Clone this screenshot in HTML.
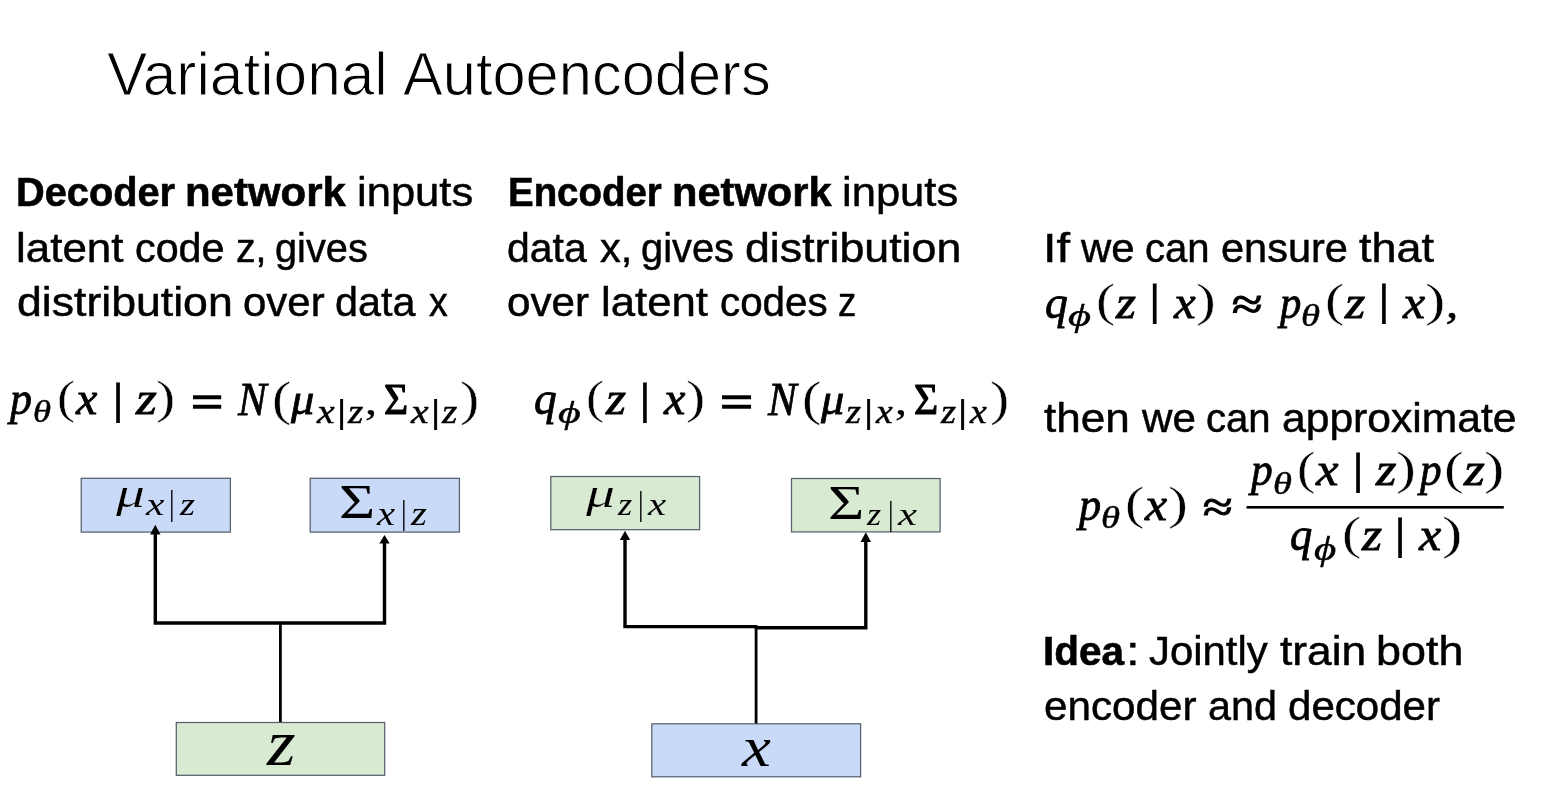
<!DOCTYPE html>
<html lang="en"><head><meta charset="utf-8"><title>Variational Autoencoders</title>
<style>
html,body{margin:0;padding:0;background:#fff;}
#slide{position:relative;width:1542px;height:796px;overflow:hidden;background:#fff;color:#000;}
.t{position:absolute;white-space:pre;line-height:normal;display:block;}
.sa{font-family:"Liberation Sans",sans-serif;}
.sb{font-family:"Liberation Sans",sans-serif;font-weight:700;}
.it{font-family:"Liberation Serif",serif;font-style:italic;}
.up{font-family:"Liberation Serif",serif;}
svg{position:absolute;left:0;top:0;}
#text{position:absolute;left:0;top:0;width:1542px;height:796px;will-change:transform;}

</style></head>
<body>
<div id="slide">
<svg width="1542" height="796" viewBox="0 0 1542 796">
  <g stroke="#56616f" stroke-width="1.25">
    <rect x="81.2" y="478.3" width="149.2" height="53.8" fill="#c9daf8"/>
    <rect x="310.2" y="478.3" width="149.2" height="53.8" fill="#c9daf8"/>
    <rect x="176.3" y="722.5" width="208.4" height="52.8" fill="#d9ead3"/>
    <rect x="550.8" y="476.5" width="148.8" height="53.2" fill="#d9ead3"/>
    <rect x="791.5" y="478.5" width="148.6" height="53.4" fill="#d9ead3"/>
    <rect x="651.8" y="723.8" width="208.8" height="53.0" fill="#c9daf8"/>
  </g>
  <g fill="none" stroke="#000" stroke-width="3.4" stroke-linejoin="miter">
    <polyline points="155.3,533 155.3,623 384.5,623 384.5,542"/>
    <polyline points="625,539 625,626.6 757.5,626.6"/>
    <polyline points="754.7,627.7 865.8,627.7 865.8,541"/>
  </g>
  <g stroke="#000" stroke-width="2.8">
    <line x1="280.4" y1="623" x2="280.4" y2="722"/>
    <line x1="756.1" y1="627" x2="756.1" y2="723.5"/>
  </g>
  <g fill="#000">
    <polygon points="155.3,524.7 160.5,534.4 150.1,534.4"/>
    <polygon points="384.5,535 389.7,543.5 379.3,543.5"/>
    <polygon points="625,530.8 630.2,539.9 619.8,539.9"/>
    <polygon points="865.8,532.2 871,541.9 860.6,541.9"/>
  </g>
  <rect x="1246.5" y="506" width="257.3" height="2.6" fill="#000"/>
</svg>

<div id="text">
<span class="t sa" style="left:107.45px;top:38.73px;font-size:61px;transform-origin:0 56.17px;transform:scale(0.9895,1.0000);-webkit-text-stroke:1.00px #fff;">Variational</span>
<span class="t sa" style="left:402.66px;top:38.73px;font-size:61px;transform-origin:0 56.17px;transform:scale(0.9770,1.0000);-webkit-text-stroke:1.00px #fff;">Autoencoders</span>
<span class="t sb" style="left:16.44px;top:168.09px;font-size:41.5px;transform-origin:0 38.21px;transform:scale(0.9577,1.0000);-webkit-text-stroke:0.60px #000;">Decoder</span>
<span class="t sb" style="left:185.11px;top:168.09px;font-size:41.5px;transform-origin:0 38.21px;transform:scale(1.0107,1.0000);-webkit-text-stroke:0.60px #000;">network</span>
<span class="t sa" style="left:356.56px;top:168.09px;font-size:41.5px;transform-origin:0 38.21px;transform:scale(1.0494,1.0000);-webkit-text-stroke:0.50px #000;">inputs</span>
<span class="t sa" style="left:16.14px;top:224.19px;font-size:41.5px;transform-origin:0 38.21px;transform:scale(1.0588,1.0000);-webkit-text-stroke:0.50px #000;">latent</span>
<span class="t sa" style="left:135.23px;top:224.19px;font-size:41.5px;transform-origin:0 38.21px;transform:scale(0.9947,1.0000);-webkit-text-stroke:0.50px #000;">code</span>
<span class="t sa" style="left:235.90px;top:224.19px;font-size:41.5px;transform-origin:0 38.21px;transform:scale(0.9450,1.0000);-webkit-text-stroke:0.50px #000;">z,</span>
<span class="t sa" style="left:275.18px;top:224.19px;font-size:41.5px;transform-origin:0 38.21px;transform:scale(0.9573,1.0000);-webkit-text-stroke:0.50px #000;">gives</span>
<span class="t sa" style="left:16.61px;top:278.19px;font-size:41.5px;transform-origin:0 38.21px;transform:scale(1.0749,1.0000);-webkit-text-stroke:0.50px #000;">distribution</span>
<span class="t sa" style="left:243.00px;top:278.19px;font-size:41.5px;transform-origin:0 38.21px;transform:scale(1.0110,1.0000);-webkit-text-stroke:0.50px #000;">over</span>
<span class="t sa" style="left:335.33px;top:278.19px;font-size:41.5px;transform-origin:0 38.21px;transform:scale(0.9947,1.0000);-webkit-text-stroke:0.50px #000;">data</span>
<span class="t sa" style="left:429.46px;top:278.19px;font-size:41.5px;transform-origin:0 38.21px;transform:scale(0.9054,1.0000);-webkit-text-stroke:0.50px #000;">x</span>
<span class="t sb" style="left:507.72px;top:168.09px;font-size:41.5px;transform-origin:0 38.21px;transform:scale(0.9258,1.0000);-webkit-text-stroke:0.60px #000;">Encoder</span>
<span class="t sb" style="left:671.53px;top:168.09px;font-size:41.5px;transform-origin:0 38.21px;transform:scale(1.0031,1.0000);-webkit-text-stroke:0.60px #000;">network</span>
<span class="t sa" style="left:842.36px;top:168.09px;font-size:41.5px;transform-origin:0 38.21px;transform:scale(1.0494,1.0000);-webkit-text-stroke:0.50px #000;">inputs</span>
<span class="t sa" style="left:507.44px;top:224.19px;font-size:41.5px;transform-origin:0 38.21px;transform:scale(0.9859,1.0000);-webkit-text-stroke:0.50px #000;">data</span>
<span class="t sa" style="left:600.43px;top:224.19px;font-size:41.5px;transform-origin:0 38.21px;transform:scale(0.9996,1.0000);-webkit-text-stroke:0.50px #000;">x,</span>
<span class="t sa" style="left:640.98px;top:224.19px;font-size:41.5px;transform-origin:0 38.21px;transform:scale(0.9594,1.0000);-webkit-text-stroke:0.50px #000;">gives</span>
<span class="t sa" style="left:745.31px;top:224.19px;font-size:41.5px;transform-origin:0 38.21px;transform:scale(1.0775,1.0000);-webkit-text-stroke:0.50px #000;">distribution</span>
<span class="t sa" style="left:507.40px;top:278.19px;font-size:41.5px;transform-origin:0 38.21px;transform:scale(1.0161,1.0000);-webkit-text-stroke:0.50px #000;">over</span>
<span class="t sa" style="left:601.35px;top:278.19px;font-size:41.5px;transform-origin:0 38.21px;transform:scale(1.0537,1.0000);-webkit-text-stroke:0.50px #000;">latent</span>
<span class="t sa" style="left:719.76px;top:278.19px;font-size:41.5px;transform-origin:0 38.21px;transform:scale(0.9717,1.0000);-webkit-text-stroke:0.50px #000;">codes</span>
<span class="t sa" style="left:838.29px;top:278.19px;font-size:41.5px;transform-origin:0 38.21px;transform:scale(0.8827,1.0000);-webkit-text-stroke:0.50px #000;">z</span>
<span class="t sa" style="left:1042.53px;top:224.19px;font-size:41.5px;transform-origin:0 38.21px;transform:scale(1.1728,1.0000);-webkit-text-stroke:0.50px #000;">If</span>
<span class="t sa" style="left:1081.05px;top:224.19px;font-size:41.5px;transform-origin:0 38.21px;transform:scale(1.0100,1.0000);-webkit-text-stroke:0.50px #000;">we</span>
<span class="t sa" style="left:1145.27px;top:224.19px;font-size:41.5px;transform-origin:0 38.21px;transform:scale(0.9663,1.0000);-webkit-text-stroke:0.50px #000;">can</span>
<span class="t sa" style="left:1221.02px;top:224.19px;font-size:41.5px;transform-origin:0 38.21px;transform:scale(1.0001,1.0000);-webkit-text-stroke:0.50px #000;">ensure</span>
<span class="t sa" style="left:1358.72px;top:224.19px;font-size:41.5px;transform-origin:0 38.21px;transform:scale(1.0828,1.0000);-webkit-text-stroke:0.50px #000;">that</span>
<span class="t sa" style="left:1044.23px;top:394.09px;font-size:41.5px;transform-origin:0 38.21px;transform:scale(1.0620,1.0000);-webkit-text-stroke:0.50px #000;">then</span>
<span class="t sa" style="left:1141.95px;top:394.09px;font-size:41.5px;transform-origin:0 38.21px;transform:scale(1.0158,1.0000);-webkit-text-stroke:0.50px #000;">we</span>
<span class="t sa" style="left:1206.07px;top:394.09px;font-size:41.5px;transform-origin:0 38.21px;transform:scale(0.9663,1.0000);-webkit-text-stroke:0.50px #000;">can</span>
<span class="t sa" style="left:1281.78px;top:394.09px;font-size:41.5px;transform-origin:0 38.21px;transform:scale(1.0271,1.0000);-webkit-text-stroke:0.50px #000;">approximate</span>
<span class="t sb" style="left:1043.39px;top:627.09px;font-size:41.5px;transform-origin:0 38.21px;transform:scale(0.9756,1.0000);-webkit-text-stroke:0.60px #000;">Idea</span>
<span class="t sa" style="left:1126.29px;top:627.09px;font-size:41.5px;transform-origin:0 38.21px;transform:scale(1.1838,1.0000);-webkit-text-stroke:0.50px #000;">:</span>
<span class="t sa" style="left:1148.75px;top:627.09px;font-size:41.5px;transform-origin:0 38.21px;transform:scale(1.0092,1.0000);-webkit-text-stroke:0.50px #000;">Jointly</span>
<span class="t sa" style="left:1279.53px;top:627.09px;font-size:41.5px;transform-origin:0 38.21px;transform:scale(1.0669,1.0000);-webkit-text-stroke:0.50px #000;">train</span>
<span class="t sa" style="left:1376.48px;top:627.09px;font-size:41.5px;transform-origin:0 38.21px;transform:scale(1.0818,1.0000);-webkit-text-stroke:0.50px #000;">both</span>
<span class="t sa" style="left:1043.80px;top:682.09px;font-size:41.5px;transform-origin:0 38.21px;transform:scale(1.0169,1.0000);-webkit-text-stroke:0.50px #000;">encoder</span>
<span class="t sa" style="left:1207.73px;top:682.09px;font-size:41.5px;transform-origin:0 38.21px;transform:scale(0.9947,1.0000);-webkit-text-stroke:0.50px #000;">and</span>
<span class="t sa" style="left:1288.20px;top:682.09px;font-size:41.5px;transform-origin:0 38.21px;transform:scale(1.0135,1.0000);-webkit-text-stroke:0.50px #000;">decoder</span>
<span class="t it" style="left:10.44px;top:371.41px;font-size:47px;transform-origin:0 42.89px;transform:scale(0.9349,1.0000);-webkit-text-stroke:0.80px #000;">p</span>
<span class="t it" style="left:32.63px;top:391.33px;font-size:34.5px;transform-origin:0 31.48px;transform:scale(1.0622,0.9023);-webkit-text-stroke:0.50px #000;">θ</span>
<span class="t up" style="left:57.29px;top:370.30px;font-size:47px;transform-origin:0 42.89px;transform:scale(1.1519,1.0025);-webkit-text-stroke:0.40px #fff;">(</span>
<span class="t it" style="left:76.01px;top:371.41px;font-size:47px;transform-origin:0 42.89px;transform:scale(1.0251,1.0000);-webkit-text-stroke:0.80px #000;">x</span>
<span class="t up" style="left:110.70px;top:371.42px;font-size:47px;transform-origin:0 42.89px;transform:scale(1.5000,0.9594);-webkit-text-stroke:0.25px #000;">|</span>
<span class="t it" style="left:136.13px;top:371.41px;font-size:47px;transform-origin:0 42.89px;transform:scale(1.1414,1.0000);-webkit-text-stroke:0.80px #000;">z</span>
<span class="t up" style="left:156.13px;top:370.30px;font-size:47px;transform-origin:0 42.89px;transform:scale(1.2299,1.0025);-webkit-text-stroke:0.40px #fff;">)</span>
<span class="t up" style="left:190.50px;top:375.28px;font-size:47px;transform-origin:0 42.89px;transform:scale(1.2129,1.0418);-webkit-text-stroke:1.40px #000;">=</span>
<span class="t it" style="left:238.22px;top:372.11px;font-size:47px;transform-origin:0 42.89px;transform:scale(0.9141,0.9889);-webkit-text-stroke:0.80px #000;">N</span>
<span class="t up" style="left:272.10px;top:371.88px;font-size:47px;transform-origin:0 42.89px;transform:scale(1.2299,1.0144);-webkit-text-stroke:0.40px #fff;">(</span>
<span class="t it" style="left:291.20px;top:370.79px;font-size:47px;transform-origin:0 42.89px;transform:scale(0.9897,0.9651);-webkit-text-stroke:0.80px #000;">μ</span>
<span class="t it" style="left:316.58px;top:392.42px;font-size:34.5px;transform-origin:0 31.48px;transform:scale(1.1482,1.0000);-webkit-text-stroke:0.50px #000;">x</span>
<span class="t up" style="left:335.99px;top:391.94px;font-size:34.5px;transform-origin:0 31.48px;transform:scale(1.6104,0.9481);-webkit-text-stroke:0.20px #000;">|</span>
<span class="t it" style="left:348.28px;top:392.42px;font-size:34.5px;transform-origin:0 31.48px;transform:scale(1.1393,1.0000);-webkit-text-stroke:0.50px #000;">z</span>
<span class="t up" style="left:365.02px;top:371.44px;font-size:47px;transform-origin:0 42.89px;transform:scale(1.0274,0.8609);-webkit-text-stroke:0.25px #000;">,</span>
<span class="t up" style="left:384.02px;top:371.49px;font-size:47px;transform-origin:0 42.89px;transform:scale(0.8820,0.9611);-webkit-text-stroke:1.30px #000;">Σ</span>
<span class="t it" style="left:410.78px;top:392.42px;font-size:34.5px;transform-origin:0 31.48px;transform:scale(1.1482,1.0000);-webkit-text-stroke:0.50px #000;">x</span>
<span class="t up" style="left:430.19px;top:391.94px;font-size:34.5px;transform-origin:0 31.48px;transform:scale(1.6104,0.9481);-webkit-text-stroke:0.20px #000;">|</span>
<span class="t it" style="left:442.48px;top:392.42px;font-size:34.5px;transform-origin:0 31.48px;transform:scale(1.1393,1.0000);-webkit-text-stroke:0.50px #000;">z</span>
<span class="t up" style="left:460.33px;top:371.88px;font-size:47px;transform-origin:0 42.89px;transform:scale(1.2299,1.0144);-webkit-text-stroke:0.40px #fff;">)</span>
<span class="t it" style="left:533.87px;top:371.41px;font-size:47px;transform-origin:0 42.89px;transform:scale(0.9648,1.0000);-webkit-text-stroke:0.80px #000;">q</span>
<span class="t it" style="left:557.92px;top:391.76px;font-size:34.5px;transform-origin:0 31.48px;transform:scale(1.2721,0.9308);-webkit-text-stroke:0.50px #000;">ϕ</span>
<span class="t up" style="left:586.49px;top:370.30px;font-size:47px;transform-origin:0 42.89px;transform:scale(1.1519,1.0025);-webkit-text-stroke:0.40px #fff;">(</span>
<span class="t it" style="left:606.08px;top:371.41px;font-size:47px;transform-origin:0 42.89px;transform:scale(1.0940,1.0000);-webkit-text-stroke:0.80px #000;">z</span>
<span class="t up" style="left:637.53px;top:371.42px;font-size:47px;transform-origin:0 42.89px;transform:scale(1.4615,0.9594);-webkit-text-stroke:0.25px #000;">|</span>
<span class="t it" style="left:663.51px;top:371.41px;font-size:47px;transform-origin:0 42.89px;transform:scale(1.0251,1.0000);-webkit-text-stroke:0.80px #000;">x</span>
<span class="t up" style="left:686.13px;top:370.30px;font-size:47px;transform-origin:0 42.89px;transform:scale(1.2299,1.0025);-webkit-text-stroke:0.40px #fff;">)</span>
<span class="t up" style="left:719.64px;top:375.28px;font-size:47px;transform-origin:0 42.89px;transform:scale(1.2471,1.0418);-webkit-text-stroke:1.40px #000;">=</span>
<span class="t it" style="left:768.22px;top:372.11px;font-size:47px;transform-origin:0 42.89px;transform:scale(0.9141,0.9889);-webkit-text-stroke:0.80px #000;">N</span>
<span class="t up" style="left:802.10px;top:371.88px;font-size:47px;transform-origin:0 42.89px;transform:scale(1.2299,1.0144);-webkit-text-stroke:0.40px #fff;">(</span>
<span class="t it" style="left:821.20px;top:370.79px;font-size:47px;transform-origin:0 42.89px;transform:scale(0.9897,0.9651);-webkit-text-stroke:0.80px #000;">μ</span>
<span class="t it" style="left:845.76px;top:392.42px;font-size:34.5px;transform-origin:0 31.48px;transform:scale(1.1176,1.0000);-webkit-text-stroke:0.50px #000;">z</span>
<span class="t up" style="left:863.49px;top:391.94px;font-size:34.5px;transform-origin:0 31.48px;transform:scale(1.6104,0.9481);-webkit-text-stroke:0.20px #000;">|</span>
<span class="t it" style="left:875.74px;top:392.42px;font-size:34.5px;transform-origin:0 31.48px;transform:scale(1.0920,1.0000);-webkit-text-stroke:0.50px #000;">x</span>
<span class="t up" style="left:895.02px;top:371.44px;font-size:47px;transform-origin:0 42.89px;transform:scale(1.0274,0.8609);-webkit-text-stroke:0.25px #000;">,</span>
<span class="t up" style="left:914.02px;top:371.49px;font-size:47px;transform-origin:0 42.89px;transform:scale(0.8820,0.9611);-webkit-text-stroke:1.30px #000;">Σ</span>
<span class="t it" style="left:940.76px;top:392.42px;font-size:34.5px;transform-origin:0 31.48px;transform:scale(1.1176,1.0000);-webkit-text-stroke:0.50px #000;">z</span>
<span class="t up" style="left:957.39px;top:391.94px;font-size:34.5px;transform-origin:0 31.48px;transform:scale(1.6104,0.9481);-webkit-text-stroke:0.20px #000;">|</span>
<span class="t it" style="left:969.94px;top:392.42px;font-size:34.5px;transform-origin:0 31.48px;transform:scale(1.0920,1.0000);-webkit-text-stroke:0.50px #000;">x</span>
<span class="t up" style="left:990.33px;top:371.88px;font-size:47px;transform-origin:0 42.89px;transform:scale(1.2299,1.0144);-webkit-text-stroke:0.40px #fff;">)</span>
<span class="t it" style="left:1044.67px;top:274.61px;font-size:47px;transform-origin:0 42.89px;transform:scale(0.9695,1.0000);-webkit-text-stroke:0.80px #000;">q</span>
<span class="t it" style="left:1068.41px;top:294.74px;font-size:34.5px;transform-origin:0 31.48px;transform:scale(1.2900,0.9339);-webkit-text-stroke:0.50px #000;">ϕ</span>
<span class="t up" style="left:1096.33px;top:272.65px;font-size:47px;transform-origin:0 42.89px;transform:scale(1.2212,0.9977);-webkit-text-stroke:0.40px #fff;">(</span>
<span class="t it" style="left:1116.08px;top:274.61px;font-size:47px;transform-origin:0 42.89px;transform:scale(1.0940,1.0000);-webkit-text-stroke:0.80px #000;">z</span>
<span class="t up" style="left:1148.16px;top:272.09px;font-size:47px;transform-origin:0 42.89px;transform:scale(1.4231,0.9431);-webkit-text-stroke:0.25px #000;">|</span>
<span class="t it" style="left:1174.03px;top:274.61px;font-size:47px;transform-origin:0 42.89px;transform:scale(1.0387,1.0000);-webkit-text-stroke:0.80px #000;">x</span>
<span class="t up" style="left:1196.47px;top:272.65px;font-size:47px;transform-origin:0 42.89px;transform:scale(1.2645,0.9977);-webkit-text-stroke:0.40px #fff;">)</span>
<span class="t up" style="left:1231.65px;top:276.21px;font-size:47px;transform-origin:0 42.89px;transform:scale(1.1783,0.9344);-webkit-text-stroke:1.30px #000;">≈</span>
<span class="t it" style="left:1279.55px;top:274.61px;font-size:47px;transform-origin:0 42.89px;transform:scale(0.9076,1.0000);-webkit-text-stroke:0.80px #000;">p</span>
<span class="t it" style="left:1300.84px;top:294.72px;font-size:34.5px;transform-origin:0 31.48px;transform:scale(1.1227,0.9223);-webkit-text-stroke:0.50px #000;">θ</span>
<span class="t up" style="left:1325.40px;top:272.65px;font-size:47px;transform-origin:0 42.89px;transform:scale(1.2299,0.9977);-webkit-text-stroke:0.40px #fff;">(</span>
<span class="t it" style="left:1345.30px;top:274.61px;font-size:47px;transform-origin:0 42.89px;transform:scale(1.1098,1.0000);-webkit-text-stroke:0.80px #000;">z</span>
<span class="t up" style="left:1377.03px;top:272.09px;font-size:47px;transform-origin:0 42.89px;transform:scale(1.4615,0.9431);-webkit-text-stroke:0.25px #000;">|</span>
<span class="t it" style="left:1402.75px;top:274.61px;font-size:47px;transform-origin:0 42.89px;transform:scale(1.0615,1.0000);-webkit-text-stroke:0.80px #000;">x</span>
<span class="t up" style="left:1425.20px;top:272.65px;font-size:47px;transform-origin:0 42.89px;transform:scale(1.2992,0.9977);-webkit-text-stroke:0.40px #fff;">)</span>
<span class="t it" style="left:1445.50px;top:274.27px;font-size:47px;transform-origin:0 42.89px;transform:scale(1.0316,0.8787);-webkit-text-stroke:0.80px #000;">,</span>
<span class="t it" style="left:1078.76px;top:476.61px;font-size:47px;transform-origin:0 42.89px;transform:scale(0.9427,1.0000);-webkit-text-stroke:0.80px #000;">p</span>
<span class="t it" style="left:1100.84px;top:497.21px;font-size:34.5px;transform-origin:0 31.48px;transform:scale(1.1227,0.9383);-webkit-text-stroke:0.50px #000;">θ</span>
<span class="t up" style="left:1125.40px;top:475.65px;font-size:47px;transform-origin:0 42.89px;transform:scale(1.2299,0.9977);-webkit-text-stroke:0.40px #fff;">(</span>
<span class="t it" style="left:1145.25px;top:476.61px;font-size:47px;transform-origin:0 42.89px;transform:scale(1.0615,1.0000);-webkit-text-stroke:0.80px #000;">x</span>
<span class="t up" style="left:1167.75px;top:475.65px;font-size:47px;transform-origin:0 42.89px;transform:scale(1.2732,0.9977);-webkit-text-stroke:0.40px #fff;">)</span>
<span class="t up" style="left:1203.37px;top:477.64px;font-size:47px;transform-origin:0 42.89px;transform:scale(1.1450,0.8917);-webkit-text-stroke:1.30px #000;">≈</span>
<span class="t it" style="left:1251.20px;top:442.11px;font-size:47px;transform-origin:0 42.89px;transform:scale(0.9232,1.0000);-webkit-text-stroke:0.80px #000;">p</span>
<span class="t it" style="left:1272.55px;top:462.72px;font-size:34.5px;transform-origin:0 31.48px;transform:scale(1.1160,0.9223);-webkit-text-stroke:0.50px #000;">θ</span>
<span class="t up" style="left:1296.93px;top:441.12px;font-size:47px;transform-origin:0 42.89px;transform:scale(1.1779,0.9906);-webkit-text-stroke:0.40px #fff;">(</span>
<span class="t it" style="left:1316.07px;top:442.11px;font-size:47px;transform-origin:0 42.89px;transform:scale(1.0797,1.0000);-webkit-text-stroke:0.80px #000;">x</span>
<span class="t up" style="left:1350.70px;top:440.77px;font-size:47px;transform-origin:0 42.89px;transform:scale(1.5000,0.9548);-webkit-text-stroke:0.25px #000;">|</span>
<span class="t it" style="left:1376.11px;top:442.11px;font-size:47px;transform-origin:0 42.89px;transform:scale(1.1203,1.0000);-webkit-text-stroke:0.80px #000;">z</span>
<span class="t up" style="left:1396.05px;top:441.12px;font-size:47px;transform-origin:0 42.89px;transform:scale(1.2732,0.9906);-webkit-text-stroke:0.40px #fff;">)</span>
<span class="t it" style="left:1419.59px;top:442.11px;font-size:47px;transform-origin:0 42.89px;transform:scale(0.9193,1.0000);-webkit-text-stroke:0.80px #000;">p</span>
<span class="t up" style="left:1443.72px;top:441.12px;font-size:47px;transform-origin:0 42.89px;transform:scale(1.2645,0.9906);-webkit-text-stroke:0.40px #fff;">(</span>
<span class="t it" style="left:1463.63px;top:442.11px;font-size:47px;transform-origin:0 42.89px;transform:scale(1.1414,1.0000);-webkit-text-stroke:0.80px #000;">z</span>
<span class="t up" style="left:1483.50px;top:441.12px;font-size:47px;transform-origin:0 42.89px;transform:scale(1.2992,0.9906);-webkit-text-stroke:0.40px #fff;">)</span>
<span class="t it" style="left:1290.20px;top:506.91px;font-size:47px;transform-origin:0 42.89px;transform:scale(0.9463,1.0000);-webkit-text-stroke:0.80px #000;">q</span>
<span class="t it" style="left:1314.24px;top:528.84px;font-size:34.5px;transform-origin:0 31.48px;transform:scale(1.2423,0.9466);-webkit-text-stroke:0.50px #000;">ϕ</span>
<span class="t up" style="left:1342.10px;top:506.35px;font-size:47px;transform-origin:0 42.89px;transform:scale(1.2299,0.9977);-webkit-text-stroke:0.40px #fff;">(</span>
<span class="t it" style="left:1361.89px;top:506.91px;font-size:47px;transform-origin:0 42.89px;transform:scale(1.0993,1.0000);-webkit-text-stroke:0.80px #000;">z</span>
<span class="t up" style="left:1393.20px;top:505.77px;font-size:47px;transform-origin:0 42.89px;transform:scale(1.5000,0.9548);-webkit-text-stroke:0.25px #000;">|</span>
<span class="t it" style="left:1419.35px;top:506.91px;font-size:47px;transform-origin:0 42.89px;transform:scale(1.0661,1.0000);-webkit-text-stroke:0.80px #000;">x</span>
<span class="t up" style="left:1441.90px;top:506.35px;font-size:47px;transform-origin:0 42.89px;transform:scale(1.2992,0.9977);-webkit-text-stroke:0.40px #fff;">)</span>
<span class="t it" style="left:115.66px;top:470.37px;font-size:40px;transform-origin:0 36.50px;transform:scale(1.4458,1.0626);-webkit-text-stroke:0.20px #fff;">μ</span>
<span class="t it" style="left:146.32px;top:487.62px;font-size:30px;transform-origin:0 27.38px;transform:scale(1.3852,1.0327);">x</span>
<span class="t up" style="left:169.20px;top:488.39px;font-size:30px;transform-origin:0 27.38px;transform:scale(0.9333,1.1596);">|</span>
<span class="t it" style="left:180.48px;top:487.62px;font-size:30px;transform-origin:0 27.38px;transform:scale(1.2903,1.0327);">z</span>
<span class="t up" style="left:339.37px;top:480.50px;font-size:40px;transform-origin:0 36.50px;transform:scale(1.5529,1.1924);">Σ</span>
<span class="t it" style="left:377.21px;top:497.62px;font-size:30px;transform-origin:0 27.38px;transform:scale(1.3556,1.1200);">x</span>
<span class="t up" style="left:400.50px;top:496.95px;font-size:30px;transform-origin:0 27.38px;transform:scale(0.9333,1.1339);">|</span>
<span class="t it" style="left:411.31px;top:497.62px;font-size:30px;transform-origin:0 27.38px;transform:scale(1.3677,1.1200);">z</span>
<span class="t it" style="left:585.66px;top:470.37px;font-size:40px;transform-origin:0 36.50px;transform:scale(1.4458,1.0626);-webkit-text-stroke:0.20px #fff;">μ</span>
<span class="t it" style="left:617.96px;top:487.62px;font-size:30px;transform-origin:0 27.38px;transform:scale(1.2215,1.0327);">z</span>
<span class="t up" style="left:637.50px;top:488.16px;font-size:30px;transform-origin:0 27.38px;transform:scale(0.9333,1.1486);">|</span>
<span class="t it" style="left:648.01px;top:487.62px;font-size:30px;transform-origin:0 27.38px;transform:scale(1.3556,1.0327);">x</span>
<span class="t up" style="left:828.46px;top:482.20px;font-size:40px;transform-origin:0 36.50px;transform:scale(1.5580,1.1924);">Σ</span>
<span class="t it" style="left:867.15px;top:497.92px;font-size:30px;transform-origin:0 27.38px;transform:scale(1.2129,1.0545);">z</span>
<span class="t up" style="left:887.70px;top:498.32px;font-size:30px;transform-origin:0 27.38px;transform:scale(0.9333,1.0936);">|</span>
<span class="t it" style="left:898.03px;top:497.92px;font-size:30px;transform-origin:0 27.38px;transform:scale(1.4222,1.0545);">x</span>
<span class="t it" style="left:266.82px;top:709.42px;font-size:62px;transform-origin:0 56.57px;transform:scale(1.1863,1.0452);">z</span>
<span class="t it" style="left:742.11px;top:709.62px;font-size:62px;transform-origin:0 56.57px;transform:scale(1.0466,0.9114);">x</span>
</div>
</div>
</body></html>
